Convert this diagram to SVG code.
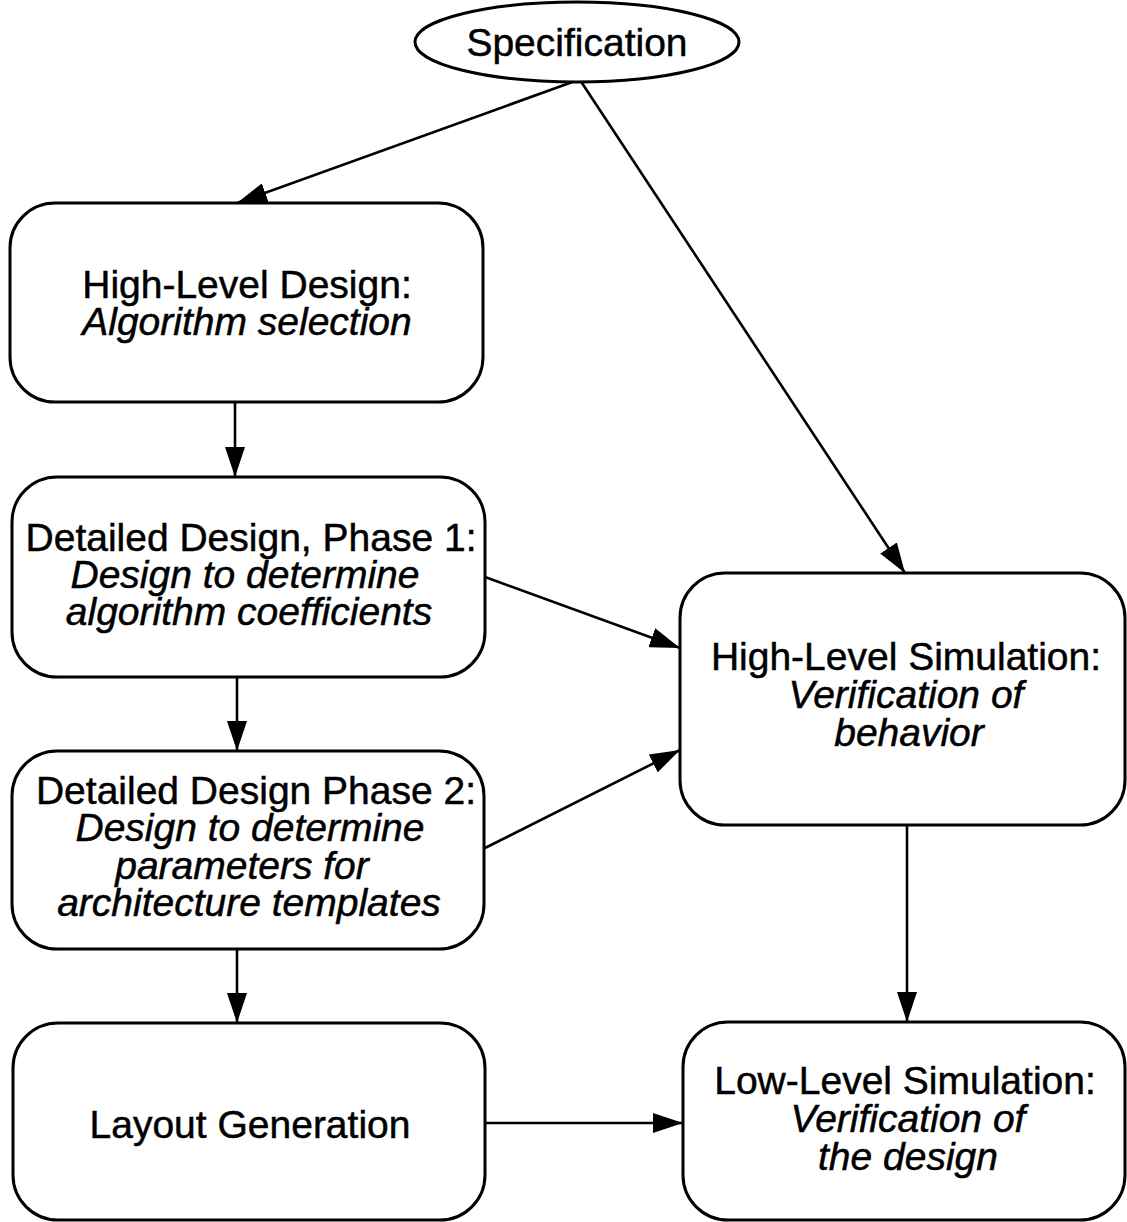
<svg xmlns="http://www.w3.org/2000/svg" width="1127" height="1222" viewBox="0 0 1127 1222">
  <style>
    .box { fill: #fff; stroke: #000; stroke-width: 3; }
    .edge { fill: none; stroke: #000; stroke-width: 2.6; marker-end: url(#arrow); }
    text { font-family: "Liberation Sans", Arial, Helvetica, sans-serif; font-size: 39px; fill: #000; stroke: #000; stroke-width: 0.5; text-anchor: middle; }
    .it { font-style: italic; }
  </style>
  <defs>
    <marker id="arrow" markerUnits="userSpaceOnUse" viewBox="0 0 30 20" refX="30" refY="10" markerWidth="30" markerHeight="20" orient="auto">
      <path d="M0,0 L30,10 L0,20 z" fill="#000"/>
    </marker>
  </defs>
  <rect width="1127" height="1222" fill="#fff"/>

  <!-- connectors -->
  <g id="connectors">
    <line class="edge" x1="578" y1="80" x2="237" y2="203"/>
    <line class="edge" x1="580" y1="80" x2="905" y2="573"/>
    <line class="edge" x1="235" y1="402" x2="235" y2="477"/>
    <line class="edge" x1="237" y1="677" x2="237" y2="751"/>
    <line class="edge" x1="237" y1="949" x2="237" y2="1023"/>
    <line class="edge" x1="485" y1="577" x2="680" y2="648"/>
    <line class="edge" x1="485" y1="848" x2="680" y2="750"/>
    <line class="edge" x1="907" y1="825" x2="907" y2="1022"/>
    <line class="edge" x1="485" y1="1123" x2="683" y2="1123"/>
  </g>

  <!-- nodes -->
  <g id="specification">
    <ellipse class="box" cx="577" cy="42" rx="162" ry="40"/>
    <text x="577" y="56">Specification</text>
  </g>

  <g id="high-level-design">
    <rect class="box" x="10" y="203" width="473" height="199" rx="45" ry="45"/>
    <text x="247" y="298">High-Level Design:</text>
    <text class="it" x="247" y="335">Algorithm selection</text>
  </g>

  <g id="detailed-design-1">
    <rect class="box" x="12" y="477" width="473" height="200" rx="45" ry="45"/>
    <text x="251" y="551">Detailed Design, Phase 1:</text>
    <text class="it" x="245" y="588">Design to determine</text>
    <text class="it" x="249" y="625">algorithm coefficients</text>
  </g>

  <g id="detailed-design-2">
    <rect class="box" x="12" y="751" width="472" height="198" rx="45" ry="45"/>
    <text x="256" y="804">Detailed Design Phase 2:</text>
    <text class="it" x="250" y="841">Design to determine</text>
    <text class="it" x="242" y="879">parameters for</text>
    <text class="it" x="249" y="916">architecture templates</text>
  </g>

  <g id="layout-generation">
    <rect class="box" x="13" y="1023" width="472" height="197" rx="45" ry="45"/>
    <text x="250" y="1138">Layout Generation</text>
  </g>

  <g id="high-level-simulation">
    <rect class="box" x="680" y="573" width="445" height="252" rx="45" ry="45"/>
    <text x="906" y="670">High-Level Simulation:</text>
    <text class="it" x="906" y="708">Verification of</text>
    <text class="it" x="909" y="746">behavior</text>
  </g>

  <g id="low-level-simulation">
    <rect class="box" x="683" y="1022" width="442" height="198" rx="45" ry="45"/>
    <text x="905" y="1094">Low-Level Simulation:</text>
    <text class="it" x="908" y="1132">Verification of</text>
    <text class="it" x="908" y="1170">the design</text>
  </g>
</svg>
